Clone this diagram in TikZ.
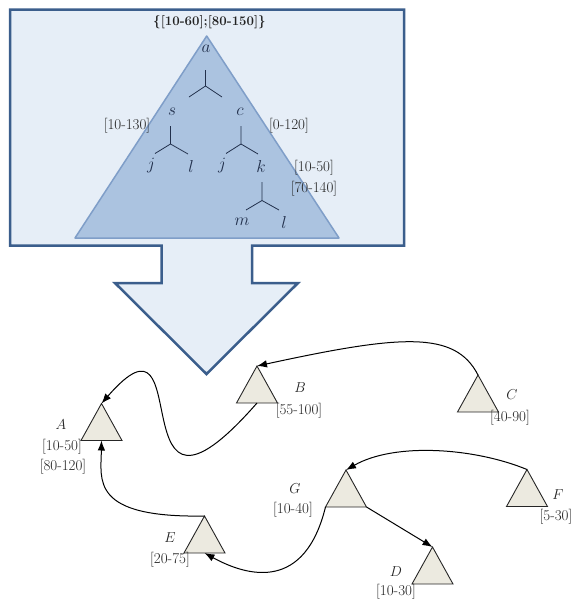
\documentclass[tikz,border=0pt]{standalone}
\usetikzlibrary{arrows.meta}
\definecolor{boxfill}{HTML}{E6EEF7}
\definecolor{boxline}{HTML}{3B5E8C}
\definecolor{trifill}{HTML}{ABC3E0}
\definecolor{triline}{HTML}{7F9EC8}
\definecolor{navy}{HTML}{22304C}
\definecolor{grayfill}{HTML}{ECEAE0}
\definecolor{lbl}{HTML}{222222}
\tikzset{
  bigbox/.style={fill=boxfill,draw=boxline,line width=2.5pt,line join=miter},
  bigtri/.style={fill=trifill,draw=triline,line width=1.5pt,line join=round},
  treeline/.style={draw=navy,line width=0.8pt},
  treetxt/.style={text=navy,inner sep=0pt,font=\fontsize{17}{20}\selectfont},
  captxt/.style={text=lbl,inner sep=0pt,font=\fontsize{15.5}{18}\selectfont},
  lab/.style={text=lbl,inner sep=0pt,font=\fontsize{15}{18}\selectfont},
  smalltri/.style={fill=grayfill,draw=black!85,line width=0.9pt,line join=miter},
  conn/.style={draw=black,line width=1pt,-{Latex[length=10pt,width=7.5pt]}},
}
\newcommand\mytri[3]{%
  \path (#2,#3) coordinate (#1-t) ++(-20.5,37) coordinate (#1-l) ++(41,0) coordinate (#1-r) ++(-20.5,0) coordinate (#1-b);
  \draw[smalltri] (#1-t) -- (#1-l) -- (#1-r) -- cycle;}
\begin{document}
\begin{tikzpicture}[x=1pt,y=-1pt]
\useasboundingbox (0,0) rectangle (575,600);
% big box with arrow
\draw[bigbox] (10,9.5) -- (404,9.5) -- (404,245.5) -- (252,245.5) -- (252,283) -- (298,283) -- (206.5,374) -- (115,283) -- (161.5,283) -- (161.5,245.5) -- (10,245.5) -- cycle;
\node[font=\bfseries\fontsize{13.2}{16}\selectfont,text=lbl,inner sep=0pt] (title) at (209.5,22) {\{[10-60];[80-150]\}};
% inner triangle
\draw[bigtri] (206.7,36) -- (75,238) -- (339,238) -- cycle;
% tree labels
\node[treetxt] (na) at (206,49) {$a$};
\node[treetxt] (ns) at (172,112) {$s$};
\node[treetxt] (nc) at (240,112) {$c$};
\node[treetxt] (nj1) at (151,166) {$j$};
\node[treetxt] (nl1) at (191,166) {$l$};
\node[treetxt] (nj2) at (222,166) {$j$};
\node[treetxt] (nk) at (261,166) {$k$};
\node[treetxt] (nm) at (242,222) {$m$};
\node[treetxt] (nl2) at (284,222) {$l$};
\node[lab] (i1) at (127,126) {[10-130]};
\node[lab] (i2) at (289,126) {[0-120]};
\node[lab] (i3) at (314,168) {[10-50]};
\node[lab] (i4) at (314,189) {[70-140]};
% tree forks
\draw[treeline] (205.5,70) -- (205.5,86) (189,97) -- (205.5,86) -- (222,97);
\draw[treeline] (170.5,126) -- (170.5,144) (155,153.5) -- (170.5,144) -- (188,154);
\draw[treeline] (241,126) -- (241,144) (226,153.5) -- (241,144) -- (258,154);
\draw[treeline] (262,182) -- (262,200.5) (246,210) -- (262,200.5) -- (279,210);
% small triangles
\mytri{A}{101.5}{403.5}
\mytri{B}{257}{366}
\mytri{C}{478}{375}
\mytri{E}{204.5}{516}
\mytri{G}{346}{470}
\mytri{F}{527}{469.5}
\mytri{D}{432.5}{547}
% labels
\node[captxt] (lA) at (61,425) {$A$};
\node[lab] (iA1) at (62,447) {[10-50]};
\node[lab] (iA2) at (63,467) {[80-120]};
\node[captxt] (lB) at (300,388) {$B$};
\node[lab] (iB) at (299,411) {[55-100]};
\node[captxt] (lC) at (512,395) {$C$};
\node[lab] (iC) at (510,418) {[40-90]};
\node[captxt] (lG) at (295,489) {$G$};
\node[lab] (iG) at (293,510) {[10-40]};
\node[captxt] (lF) at (558,495) {$F$};
\node[lab] (iF) at (556,517) {[5-30]};
\node[captxt] (lE) at (170,538) {$E$};
\node[lab] (iE) at (170,560) {[20-75]};
\node[captxt] (lD) at (396,572) {$D$};
\node[lab] (iD) at (396,592) {[10-30]};
% connectors
\draw[conn] (B-b) .. controls (115,565) and (200,290) .. (A-t);
\draw[conn] (C-t) .. controls (455,330) and (400,335) .. (B-t);
\draw[conn] (F-t) .. controls (475,448) and (395,442) .. (G-t);
\draw[conn] (G-r) -- (D-t);
\draw[conn] (G-l) .. controls (305,590) and (250,578) .. (E-b);
\draw[conn] (E-t) .. controls (90,518) and (101,480) .. (A-b);
\end{tikzpicture}
\end{document}
